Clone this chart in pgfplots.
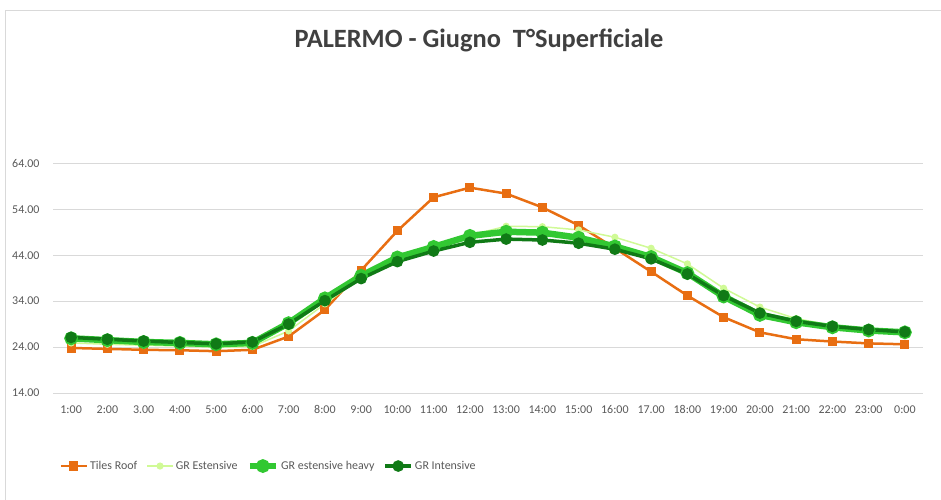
\documentclass[border=0pt]{standalone}
\usepackage{pgfplots}
\pgfplotsset{compat=1.18}
\usepackage{fontspec}
\setmainfont{Carlito}
\definecolor{tiles}{RGB}{232,110,18}
\definecolor{grest}{RGB}{208,250,150}
\definecolor{grheavy}{RGB}{50,200,50}
\definecolor{grint}{RGB}{16,122,22}
\definecolor{gridgray}{RGB}{217,217,217}
\definecolor{labgray}{RGB}{89,89,89}
\definecolor{titlegray}{RGB}{64,64,64}
\begin{document}
\begin{tikzpicture}[x=1bp,y=1bp]
\useasboundingbox (0,0) rectangle (941,500);
\draw[gridgray, line width=1bp] (5,-10) -- (5,489) -- (960,489);
\node[font=\bfseries\fontsize{26.5}{30}\selectfont, text=titlegray] at (479,460) {PALERMO - Giugno\ \ T°Superficiale};
\begin{axis}[
  at={(53bp,107bp)}, anchor=south west,
  scale only axis, width=870bp, height=229.7bp,
  xmin=0.5, xmax=24.5, ymin=14, ymax=64,
  ytick={14,24,34,44,54,64},
  xtick={1,...,24},
  xticklabels={1:00,2:00,3.00,4:00,5:00,6:00,7:00,8:00,9:00,10:00,11:00,12:00,13:00,14:00,15:00,16:00,17.00,18:00,19:00,20:00,21:00,22:00,23:00,0:00},
  axis line style={draw=none},
  major tick length=0pt,
  ymajorgrids, grid style={gridgray, line width=0.8bp},
  /pgf/number format/assume math mode=true,
  /pgf/number format/fixed, /pgf/number format/fixed zerofill, /pgf/number format/precision=2,
  ticklabel style={font=\fontsize{12}{14}\selectfont, text=labgray},
  yticklabel style={xshift=-10bp},
  xticklabel style={yshift=-9bp},
  legend columns=4,
  legend style={at={(axis description cs:0.004,-0.318)}, anchor=west, draw=none, fill=none,
     font=\fontsize{12}{14}\selectfont, text=labgray,
     /tikz/every even column/.append style={column sep=7bp}},
  legend image code/.code={\draw[mark repeat=2,mark phase=2,#1] plot coordinates {(0bp,0bp) (13bp,0bp) (26bp,0bp)};},
]
\addplot[tiles, line width=2.5bp, mark=square*, mark size=3.3bp, mark options={solid}] coordinates {
(1,23.8)(2,23.6)(3,23.4)(4,23.3)(5,23.1)(6,23.4)(7,26.3)(8,32.1)(9,40.7)(10,49.3)(11,56.6)(12,58.7)
(13,57.4)(14,54.4)(15,50.5)(16,45.5)(17,40.4)(18,35.2)(19,30.5)(20,27.2)(21,25.7)(22,25.2)(23,24.8)(24,24.6)};
\addlegendentry{Tiles Roof}
\addplot[grest, line width=1.5bp, mark=*, mark size=2.8bp] coordinates {
(1,24.9)(2,24.6)(3,24.4)(4,24.2)(5,24.0)(6,24.1)(7,27.5)(8,33.4)(9,39.1)(10,43.0)(11,45.9)(12,48.3)
(13,50.3)(14,50.2)(15,49.5)(16,47.9)(17,45.5)(18,42.1)(19,36.8)(20,32.7)(21,30.2)(22,28.7)(23,27.9)(24,27.4)};
\addlegendentry{GR Estensive}
\addplot[grheavy, line width=6.5bp, mark=*, mark size=3.5bp] coordinates {
(1,25.9)(2,25.5)(3,25.1)(4,24.9)(5,24.6)(6,24.9)(7,29.2)(8,34.6)(9,39.5)(10,43.5)(11,45.8)(12,48.2)
(13,49.1)(14,48.9)(15,47.8)(16,45.9)(17,43.6)(18,40.1)(19,35.0)(20,31.0)(21,29.4)(22,28.3)(23,27.6)(24,27.2)};
\addlegendentry{GR estensive heavy}
\addplot[grint, line width=3.5bp, mark=*, mark size=4bp] coordinates {
(1,26.1)(2,25.7)(3,25.3)(4,25.0)(5,24.7)(6,25.1)(7,29.0)(8,34.1)(9,38.9)(10,42.6)(11,44.9)(12,46.8)
(13,47.5)(14,47.3)(15,46.6)(16,45.3)(17,43.2)(18,39.9)(19,35.2)(20,31.4)(21,29.6)(22,28.5)(23,27.8)(24,27.3)};
\addlegendentry{GR Intensive}
\end{axis}
\end{tikzpicture}
\end{document}
